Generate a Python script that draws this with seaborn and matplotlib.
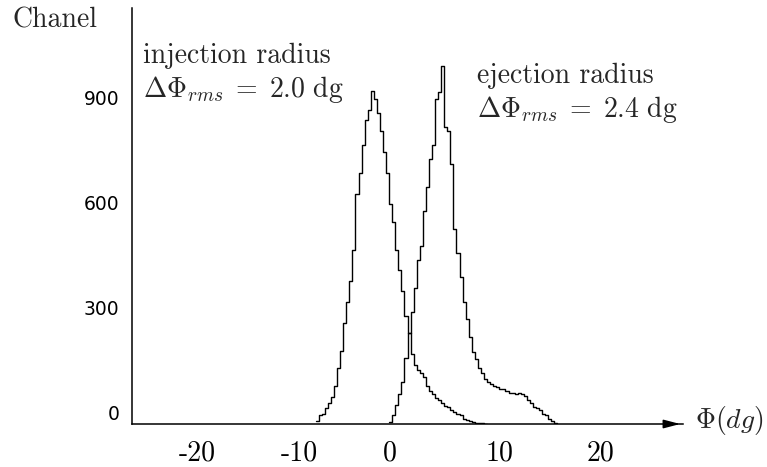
import numpy as np
import pandas as pd
import matplotlib
matplotlib.use("Agg")
import matplotlib.pyplot as plt
import matplotlib.transforms as mtransforms
import seaborn as sns

# Histogram data (counts per 0.3 dg bin)
bin_w = 0.3
inj_start = -6.6
inj_counts = [10, 25, 30, 45, 60, 77, 110, 160, 210, 290, 350, 410, 500, 660,
              720, 800, 870, 900, 955, 930, 890, 840, 780, 720, 630, 580, 500,
              440, 380, 310, 260, 200, 170, 155, 145, 135, 110, 95, 85, 75, 70,
              60, 52, 48, 40, 35, 30, 25, 15, 12, 8, 6, 4, 3, 2, 1]
ej_start = 0.6
ej_counts = [5, 25, 55, 85, 120, 190, 260, 320, 390, 470, 510, 611, 680, 760,
             800, 930, 950, 1025, 850, 840, 746, 560, 490, 420, 350, 300, 250,
             205, 185, 160, 145, 130, 120, 115, 110, 105, 100, 100, 95, 90, 90,
             85, 90, 85, 80, 70, 60, 50, 45, 40, 30, 25, 15, 8, 3]

x_ticks = [-20, -10, 0, 10, 20]
x_labels = ['-20', '-10', '0', '10', '20']
y_ticks = [0, 300, 600, 900]

sns.set_style('white')
plt.rcParams['axes.unicode_minus'] = False
plt.rcParams['mathtext.fontset'] = 'cm'
serif = ['cmr10', 'DejaVu Serif']

W, H = 767, 467
fig = plt.figure(figsize=(W / 100, H / 100), dpi=100)
# axes placed in pixel terms: y-axis at x=132, arrow tip at x=683, baseline at y=424, top at y=8
ax = fig.add_axes([132 / W, (H - 424) / H, (683 - 132) / W, (424 - 8) / H])


def draw_hist(start, counts):
    edges = start + bin_w * np.arange(len(counts) + 1)
    df = pd.DataFrame({'phi': (edges[:-1] + edges[1:]) / 2, 'count': counts})
    sns.histplot(data=df, x='phi', weights='count', bins=list(edges),
                 element='step', fill=False, color='black', linewidth=1.0, ax=ax)


draw_hist(inj_start, inj_counts)
draw_hist(ej_start, ej_counts)

ax.set_xlim(-24.6, 29.4)
ax.set_ylim(0, 1192)
ax.set_xlabel('')
ax.set_ylabel('')

sns.despine(ax=ax)
for side in ['left', 'bottom']:
    ax.spines[side].set_linewidth(1.1)
    ax.spines[side].set_color('black')

# x ticks: long marks below the axis, serif labels starting at the tick
ax.set_xticks(x_ticks)
ax.set_xticklabels(x_labels, fontsize=20, family=serif)
ax.tick_params(axis='x', direction='out', length=10, width=1.0, pad=2, colors='black')
for lbl in ax.get_xticklabels():
    lbl.set_ha('left')

# y ticks: tiny marks, sans labels sitting a bit above their ticks
ax.set_yticks(y_ticks)
ax.set_yticklabels([str(v) for v in y_ticks], fontsize=13.5, family='DejaVu Sans')
ax.tick_params(axis='y', direction='out', length=3, width=1.0, pad=6, colors='black')
shift = mtransforms.ScaledTranslation(0, 0.12, fig.dpi_scale_trans)
for lbl in ax.get_yticklabels():
    lbl.set_transform(lbl.get_transform() + shift)

# arrow head on the x axis
ax.annotate('', xy=(1.0, 0), xytext=(0.97, 0), xycoords='axes fraction',
            arrowprops=dict(arrowstyle='-|>,head_length=0.5,head_width=0.13',
                            color='black', lw=1.1, mutation_scale=20),
            annotation_clip=False)


def px_text(x, y, s, **kw):
    fig.text(x / W, 1 - y / H, s, va='baseline', ha='left', **kw)


px_text(13, 28, 'Chanel', fontsize=20, family=serif)
px_text(143, 63, 'injection radius', fontsize=20, family=serif)
px_text(143, 97, r'$\Delta\Phi_{rms}\;=\;2.0\ \mathrm{dg}$', fontsize=20)
px_text(477, 83, 'ejection radius', fontsize=20, family=serif)
px_text(477, 117, r'$\Delta\Phi_{rms}\;=\;2.4\ \mathrm{dg}$', fontsize=20)
px_text(695, 428, r'$\Phi(dg)$', fontsize=20)

fig.savefig('out.png', dpi=100)
